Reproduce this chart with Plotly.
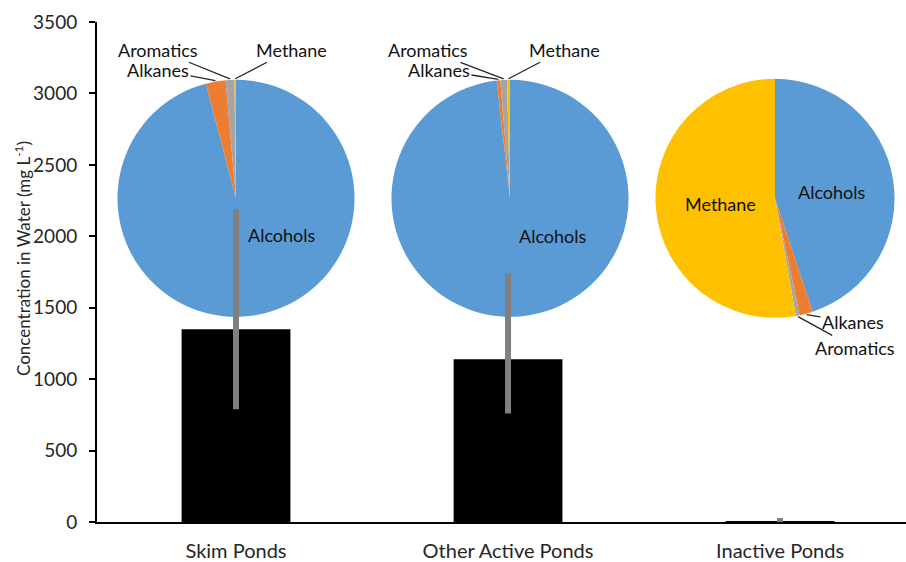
import math
import plotly.graph_objects as go

# Total concentration per pond type (mg/L) with asymmetric error ranges
ponds = ["Skim Ponds", "Other Active Ponds", "Inactive Ponds"]
total_conc = [1350, 1140, 4]
err_plus = [840, 600, 24]
err_minus = [560, 380, 4]

# Composition of each pond type (% of total)
groups = ["Alcohols", "Alkanes", "Aromatics", "Methane"]
skim_pct = [95.9, 2.7, 1.2, 0.2]
active_pct = [98.2, 0.5, 0.9, 0.4]
inactive_pct = [44.9, 1.8, 0.5, 52.8]
compositions = [skim_pct, active_pct, inactive_pct]

colors = ["#5B9BD5", "#ED7D31", "#A5A5A5", "#FFC000"]
FONT = "Lato"

W, H = 906, 562
ML, MR, MT, MB = 97, 0, 22, 38
PW, PH = W - ML - MR, H - MT - MB
X_RANGE = [-0.511, 2.463]
Y_RANGE = [0, 3500]


def px_x(px):
    return (px - ML) / PW


def px_y(py):
    return (H - MB - py) / PH


# pie placement (pixel centre and radius)
pie_geom = [(236, 199, 119), (510, 199, 119), (775, 199, 120)]

# label placement relative to pie centre (pixels); flag => leader line
label_pos = [
    {"Alcohols": (46, 37, False), "Alkanes": (-78, -129, True),
     "Aromatics": (-78, -149, True), "Methane": (55, -149, True)},
    {"Alcohols": (43, 38, False), "Alkanes": (-71, -129, True),
     "Aromatics": (-82, -149, True), "Methane": (54, -149, True)},
    {"Alcohols": (57, -6, False), "Alkanes": (78, 124, True),
     "Aromatics": (80, 150, True), "Methane": (-55, 6, False)},
]

fig = go.Figure()
fig.add_trace(go.Bar(
    x=ponds, y=total_conc, width=0.4, marker_color="black",
    marker_line_width=0, showlegend=False,
))

# error ranges drawn on the top layer so they stay visible over the pies
shapes = []
for p, v, hi, lo in zip(ponds, total_conc, err_plus, err_minus):
    shapes.append(dict(
        type="line", xref="x", yref="y", x0=p, x1=p, y0=v - lo, y1=v + hi,
        line=dict(color="#808080", width=6), layer="above",
    ))

annotations = []
for comp, (cx, cy, r), labs in zip(compositions, pie_geom, label_pos):
    fig.add_trace(go.Pie(
        labels=groups, values=comp, sort=False, direction="clockwise",
        rotation=0, marker=dict(colors=colors, line=dict(width=0)),
        textinfo="none", hoverinfo="label+percent", showlegend=False,
        domain=dict(x=[px_x(cx - r), px_x(cx + r)],
                    y=[px_y(cy + r), px_y(cy - r)]),
    ))
    total = sum(comp)
    cum = 0.0
    for g, v in zip(groups, comp):
        mid = (cum + v / 2) / total * 2 * math.pi
        cum += v
        dx, dy, leader = labs[g]
        if leader:
            tx = cx + (r + 1) * math.sin(mid)
            ty = cy - (r + 1) * math.cos(mid)
            annotations.append(dict(
                x=px_x(tx), y=px_y(ty), xref="paper", yref="paper",
                ax=(cx + dx) - tx, ay=(cy + dy) - ty,
                xanchor="center", yanchor="middle",
                text=g, showarrow=True, arrowhead=0, arrowwidth=1.3,
                arrowcolor="#262626", standoff=0, startstandoff=0,
                font=dict(family=FONT, size=18, color="#111111"),
            ))
        else:
            annotations.append(dict(
                x=px_x(cx + dx), y=px_y(cy + dy), xref="paper", yref="paper",
                xanchor="center", yanchor="middle",
                text=g, showarrow=False,
                font=dict(family=FONT, size=18, color="#111111"),
            ))

# y-axis title
annotations.append(dict(
    x=px_x(22), y=px_y(260), xref="paper", yref="paper", showarrow=False,
    xanchor="center", yanchor="middle",
    text="Concentration in Water (mg L<sup>-1</sup>)", textangle=-90,
    font=dict(family=FONT, size=17, color="#262626"),
))

fig.update_layout(
    width=W, height=H,
    margin=dict(l=ML, r=MR, t=MT, b=MB, pad=0),
    paper_bgcolor="white", plot_bgcolor="white",
    font=dict(family=FONT, size=20, color="#262626"),
    annotations=annotations, shapes=shapes,
    xaxis=dict(range=X_RANGE, showline=True, linecolor="black", linewidth=2,
               ticks="", showgrid=False, zeroline=False,
               tickfont=dict(size=20), ticklabelstandoff=10),
    yaxis=dict(range=Y_RANGE, dtick=500, showline=True, linecolor="black",
               linewidth=2, ticks="outside", ticklen=6, tickwidth=1.5,
               tickcolor="black", showgrid=False, zeroline=False,
               tickfont=dict(size=19), ticklabelstandoff=8),
)

fig.write_html("out.html")
